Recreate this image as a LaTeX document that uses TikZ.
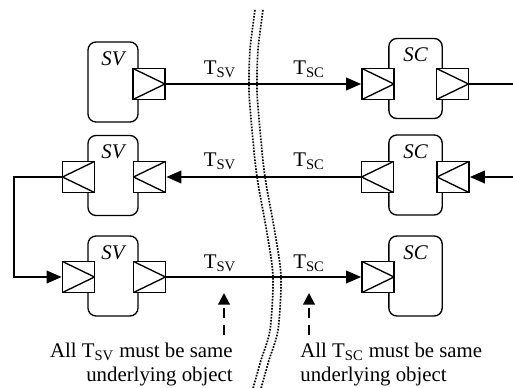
\documentclass[tikz,border=0pt]{standalone}
\usepackage{fontspec}
\setmainfont{Liberation Serif}
\usepackage{tikz}
\usetikzlibrary{arrows.meta, positioning, calc}

\begin{document}
\begin{tikzpicture}[
    x=0.6pt, y=-0.6pt,
    >={Triangle[length=9pt, width=7.5pt]},
    every node/.style={font=\fontsize{12.5}{14}\selectfont},
    unit/.style={draw, line width=0.8pt, rounded corners=4.8pt, minimum width=30pt, minimum height=48pt, inner sep=0pt},
    unitname/.style={anchor=north, inner sep=1pt, yshift=-5pt, font=\fontsize{12.5}{14}\selectfont\itshape},
    portR/.style={draw, fill=white, line width=1pt, minimum width=19.2pt, minimum height=18.6pt, inner sep=0pt,
        path picture={\draw[line width=0.8pt] (path picture bounding box.north west) -- (path picture bounding box.east) -- (path picture bounding box.south west);}},
    portL/.style={draw, fill=white, line width=1pt, minimum width=19.2pt, minimum height=18.6pt, inner sep=0pt,
        path picture={\draw[line width=0.8pt] (path picture bounding box.north east) -- (path picture bounding box.west) -- (path picture bounding box.south east);}},
    wire/.style={line width=1.2pt},
    tag/.style={anchor=base, inner sep=0pt},
    hint/.style={line width=1.2pt, dash pattern=on 6pt off 4pt, -{Triangle[length=7pt, width=7pt]}},
    border/.style={line width=1pt, dash pattern=on 1pt off 0.8pt},
]
    \useasboundingbox (0,0) rectangle (513,388);

    % Boundary
    \draw[border] plot[smooth] coordinates {(255,10) (250,50) (249,90) (252,130) (257,177) (267,233) (273,277) (270,330) (261,360) (252,392)};
    \draw[border] plot[smooth] coordinates {(263,10) (258,50) (257,90) (260,130) (265,177) (275,233) (281,277) (278,330) (269,360) (260,392)};

    % Row 1
    \node[unit, label={[unitname]north:SV}] (sv1) at (113,82) {};
    \node[portR] (sv1o) at (149,84) {};
    \node[unit, minimum width=32pt, label={[unitname]north:SC}] (sc1) at (415.5,78.5) {};
    \node[portR] (sc1i) at (378,84) {};
    \node[portR] (sc1o) at (452.5,84) {};
    \coordinate (out1) at (513,84);

    % Row 2
    \node[unit, label={[unitname]north:SV}] (sv2) at (113,175.5) {};
    \node[portL] (sv2o) at (78.5,177) {};
    \node[portL] (sv2i) at (149.5,177) {};
    \node[unit, minimum width=32pt, label={[unitname]north:SC}] (sc2) at (415.5,175) {};
    \node[portL] (sc2o) at (377.5,177) {};
    \node[portL] (sc2i) at (453,177) {};
    \coordinate (in2) at (513,177);
    \coordinate (loop) at (14,177);

    % Row 3
    \node[unit, label={[unitname]north:SV}] (sv3) at (113,276) {};
    \node[portR] (sv3i) at (78.5,277) {};
    \node[portR] (sv3o) at (149.5,277) {};
    \node[unit, minimum width=32pt, label={[unitname]north:SC}] (sc3) at (415.5,276) {};
    \node[portR] (sc3i) at (378,277) {};

    % Wires
    \draw[wire, ->] (sv1o.east) -- (sc1i.west);
    \draw[wire] (sc1o.east) -- (out1);
    \draw[wire, ->] (in2) -- (sc2i.east);
    \draw[wire, ->] (sc2o.west) -- (sv2i.east);
    \draw[wire, ->] (sv2o.west) -- (loop) |- (sv3i.west);
    \draw[wire, ->] (sv3o.east) -- (sc3i.west);

    % Type labels
    \node[tag] (tsv1) at (220,75) {T\textsubscript{SV}};
    \node[tag] (tsc1) at (309,75) {T\textsubscript{SC}};
    \node[tag] (tsv2) at (220,167) {T\textsubscript{SV}};
    \node[tag] (tsc2) at (309,167) {T\textsubscript{SC}};
    \node[tag] (tsv3) at (220,268) {T\textsubscript{SV}};
    \node[tag] (tsc3) at (309,268) {T\textsubscript{SC}};

    % Notes
    \node[anchor=north east, align=right, inner sep=0pt] (notesv) at (233,343) {All T\textsubscript{SV} must be same\\underlying object};
    \node[anchor=north west, align=left, inner sep=0pt] (notesc) at (300,343) {All T\textsubscript{SC} must be same\\underlying object};
    \coordinate (hsv0) at (224,335);
    \coordinate (hsv1) at (224,293);
    \coordinate (hsc0) at (309,335);
    \coordinate (hsc1) at (309,293);
    \draw[hint] (hsv0) -- (hsv1);
    \draw[hint] (hsc0) -- (hsc1);
\end{tikzpicture}
\end{document}
